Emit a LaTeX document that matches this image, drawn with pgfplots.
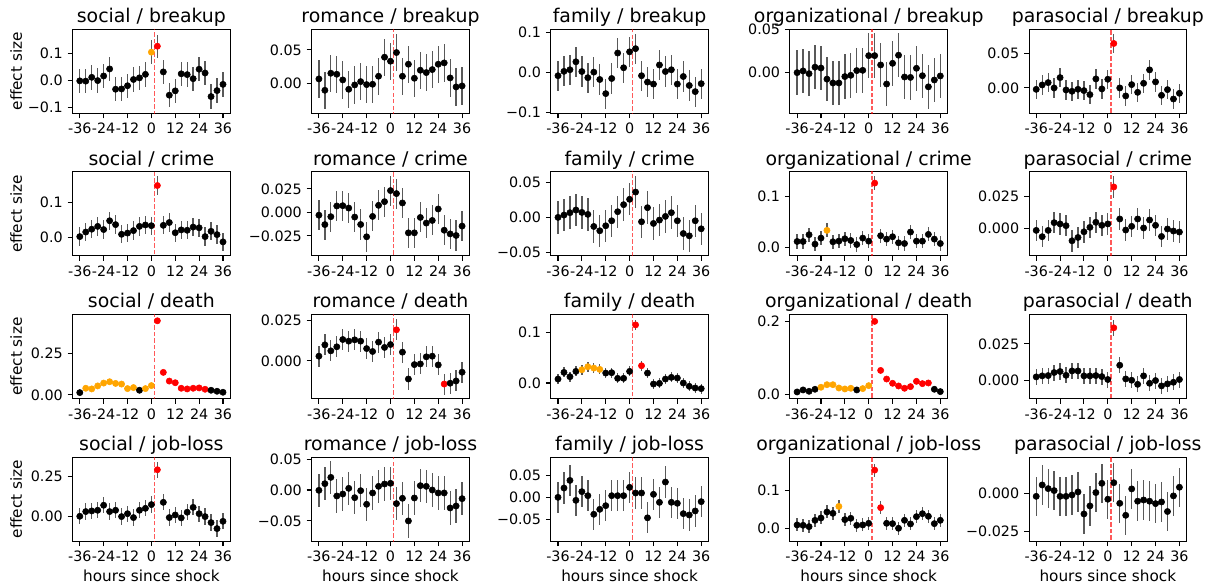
\documentclass[border=0pt]{standalone}
\usepackage{fontspec}
\setmainfont{DejaVu Sans}
\usepackage{pgfplots}
\usepackage{pgfplotstable}
\pgfplotsset{compat=1.18}
\usepgfplotslibrary{groupplots}
\definecolor{mplorange}{HTML}{FFA500}
\definecolor{mplred}{HTML}{FF0000}

% social / breakup
\pgfplotstableread{
x y e c
-36 -0.001 0.045 k
-33 -0.002 0.045 k
-30 0.012 0.045 k
-27 0.000 0.045 k
-24 0.017 0.045 k
-21 0.043 0.045 k
-18 -0.032 0.045 k
-15 -0.031 0.045 k
-12 -0.019 0.045 k
-9 0.004 0.045 k
-6 0.010 0.045 k
-3 0.023 0.045 k
0 0.105 0.045 o
3 0.127 0.042 r
6 0.032 0.045 k
9 -0.054 0.045 k
12 -0.038 0.045 k
15 0.025 0.045 k
18 0.022 0.045 k
21 0.007 0.045 k
24 0.042 0.045 k
27 0.028 0.045 k
30 -0.059 0.045 k
33 -0.037 0.045 k
36 -0.014 0.045 k
}\tA
% romance / breakup
\pgfplotstableread{
x y e c
-36 0.0065 0.028 k
-33 -0.0105 0.028 k
-30 0.015 0.028 k
-27 0.0135 0.028 k
-24 0.005 0.028 k
-21 -0.009 0.028 k
-18 -0.0025 0.028 k
-15 0.0025 0.028 k
-12 -0.002 0.028 k
-9 -0.0015 0.028 k
-6 0.0105 0.028 k
-3 0.039 0.028 k
0 0.033 0.028 k
3 0.046 0.028 k
6 0.0105 0.028 k
9 0.0285 0.028 k
12 0.0075 0.028 k
15 0.0195 0.028 k
18 0.016 0.028 k
21 0.0205 0.028 k
24 0.0285 0.028 k
27 0.0305 0.028 k
30 0.008 0.028 k
33 -0.0055 0.028 k
36 -0.004 0.028 k
}\tB
% family / breakup
\pgfplotstableread{
x y e c
-36 -0.008 0.038 k
-33 0.003 0.038 k
-30 0.007 0.038 k
-27 0.027 0.038 k
-24 0.0025 0.038 k
-21 -0.013 0.038 k
-18 0.001 0.038 k
-15 -0.0175 0.038 k
-12 -0.053 0.038 k
-9 -0.015 0.038 k
-6 0.049 0.038 k
-3 0.012 0.038 k
0 0.052 0.038 k
3 0.060 0.038 k
6 -0.008 0.038 k
9 -0.024 0.038 k
12 -0.029 0.038 k
15 0.019 0.038 k
18 0.0025 0.038 k
21 0.007 0.038 k
24 -0.029 0.038 k
27 -0.010 0.038 k
30 -0.0325 0.038 k
33 -0.048 0.038 k
36 -0.028 0.038 k
}\tC
% organizational / breakup
\pgfplotstableread{
x y e c
-36 -0.0004 0.026 k
-33 0.0016 0.026 k
-30 -0.0016 0.026 k
-27 0.006 0.026 k
-24 0.005 0.026 k
-21 -0.008 0.026 k
-18 -0.0125 0.026 k
-15 -0.0125 0.026 k
-12 -0.005 0.026 k
-9 -0.0035 0.026 k
-6 0.002 0.026 k
-3 0.0023 0.026 k
0 0.0195 0.026 k
3 0.0195 0.026 k
6 0.0086 0.026 k
9 -0.0137 0.026 k
12 0.0105 0.026 k
15 0.020 0.026 k
18 -0.0055 0.026 k
21 -0.006 0.026 k
24 0.0047 0.026 k
27 -0.004 0.026 k
30 -0.017 0.026 k
33 -0.009 0.026 k
36 -0.0043 0.026 k
}\tD
% parasocial / breakup
\pgfplotstableread{
x y e c
-36 -0.002 0.014 k
-33 0.0043 0.014 k
-30 0.0077 0.014 k
-27 0.000 0.014 k
-24 0.0149 0.014 k
-21 -0.0029 0.014 k
-18 -0.0048 0.014 k
-15 -0.0019 0.014 k
-12 -0.0038 0.014 k
-9 -0.0096 0.014 k
-6 0.013 0.014 k
-3 -0.0014 0.014 k
0 0.0125 0.014 k
3 0.064 0.014 r
6 0.000 0.014 k
9 -0.0115 0.014 k
12 0.0048 0.014 k
15 -0.0063 0.014 k
18 0.0067 0.014 k
21 0.026 0.014 k
24 0.0087 0.014 k
27 -0.0106 0.014 k
30 -0.0024 0.014 k
33 -0.0159 0.014 k
36 -0.0077 0.014 k
}\tE
% social / crime
\pgfplotstableread{
x y e c
-36 0.003 0.026 k
-33 0.016 0.026 k
-30 0.024 0.026 k
-27 0.032 0.026 k
-24 0.023 0.026 k
-21 0.048 0.026 k
-18 0.037 0.026 k
-15 0.0095 0.026 k
-12 0.013 0.026 k
-9 0.020 0.026 k
-6 0.032 0.026 k
-3 0.036 0.026 k
0 0.034 0.026 k
3 0.148 0.026 r
6 0.035 0.026 k
9 0.043 0.026 k
12 0.014 0.026 k
15 0.022 0.026 k
18 0.021 0.026 k
21 0.030 0.026 k
24 0.028 0.026 k
27 0.003 0.026 k
30 0.018 0.026 k
33 0.0086 0.026 k
36 -0.012 0.026 k
}\tF
% romance / crime
\pgfplotstableread{
x y e c
-36 -0.003 0.016 k
-33 -0.013 0.016 k
-30 -0.0046 0.016 k
-27 0.0068 0.016 k
-24 0.0071 0.016 k
-21 0.0046 0.016 k
-18 -0.005 0.016 k
-15 -0.0129 0.016 k
-12 -0.026 0.016 k
-9 -0.0043 0.016 k
-6 0.0075 0.016 k
-3 0.0114 0.016 k
0 0.0232 0.016 k
3 0.020 0.016 k
6 0.010 0.016 k
9 -0.0218 0.016 k
12 -0.0218 0.016 k
15 -0.0054 0.016 k
18 -0.0114 0.016 k
21 -0.0086 0.016 k
24 0.0036 0.016 k
27 -0.019 0.016 k
30 -0.0229 0.016 k
33 -0.0246 0.016 k
36 -0.0146 0.016 k
}\tG
% family / crime
\pgfplotstableread{
x y e c
-36 0.000 0.023 k
-33 0.0033 0.023 k
-30 0.0067 0.023 k
-27 0.0105 0.023 k
-24 0.0071 0.023 k
-21 0.0043 0.023 k
-18 -0.0129 0.023 k
-15 -0.019 0.023 k
-12 -0.0119 0.023 k
-9 -0.0048 0.023 k
-6 0.0081 0.023 k
-3 0.0181 0.023 k
0 0.0257 0.023 k
3 0.036 0.023 k
6 -0.0062 0.023 k
9 0.0138 0.023 k
12 -0.0086 0.023 k
15 -0.0038 0.023 k
18 0.0014 0.023 k
21 0.0067 0.023 k
24 -0.0048 0.023 k
27 -0.0229 0.023 k
30 -0.0262 0.023 k
33 -0.0048 0.023 k
36 -0.0162 0.023 k
}\tH
% organizational / crime
\pgfplotstableread{
x y e c
-36 0.0113 0.014 k
-33 0.0113 0.014 k
-30 0.0247 0.014 k
-27 0.006 0.014 k
-24 0.018 0.014 k
-21 0.0333 0.014 o
-18 0.0107 0.014 k
-15 0.012 0.014 k
-12 0.0167 0.014 k
-9 0.0133 0.014 k
-6 0.0053 0.014 k
-3 0.018 0.014 k
0 0.012 0.014 k
3 0.1267 0.014 r
6 0.0227 0.014 k
9 0.016 0.014 k
12 0.0207 0.014 k
15 0.0087 0.014 k
18 0.0073 0.014 k
21 0.030 0.014 k
24 0.012 0.014 k
27 0.012 0.014 k
30 0.0253 0.014 k
33 0.016 0.014 k
36 0.0073 0.014 k
}\tI
% parasocial / crime
\pgfplotstableread{
x y e c
-36 -0.0016 0.0085 k
-33 -0.0066 0.0085 k
-30 -0.0016 0.0085 k
-27 0.0045 0.0085 k
-24 0.0035 0.0085 k
-21 0.0021 0.0085 k
-18 -0.0098 0.0085 k
-15 -0.0072 0.0085 k
-12 -0.0027 0.0085 k
-9 0.0008 0.0085 k
-6 0.0048 0.0085 k
-3 0.0024 0.0085 k
0 0.0035 0.0085 k
3 0.0327 0.0085 r
6 0.0074 0.0085 k
9 -0.0013 0.0085 k
12 0.0016 0.0085 k
15 0.0074 0.0085 k
18 0.0003 0.0085 k
21 0.0066 0.0085 k
24 0.0024 0.0085 k
27 -0.0064 0.0085 k
30 -0.0005 0.0085 k
33 -0.0021 0.0085 k
36 -0.0029 0.0085 k
}\tJ
% social / death
\pgfplotstableread{
x y e c
-36 0.014 0.012 k
-33 0.040 0.012 o
-30 0.036 0.012 o
-27 0.054 0.012 o
-24 0.071 0.012 o
-21 0.079 0.012 o
-18 0.069 0.012 o
-15 0.065 0.012 o
-12 0.038 0.012 o
-9 0.044 0.012 o
-6 0.028 0.012 k
-3 0.038 0.012 o
0 0.056 0.012 o
3 0.444 0.012 r
6 0.135 0.012 r
9 0.083 0.012 r
12 0.073 0.012 r
15 0.040 0.012 r
18 0.036 0.012 r
21 0.040 0.012 r
24 0.042 0.012 r
27 0.034 0.012 r
30 0.028 0.012 k
33 0.022 0.012 k
36 0.016 0.012 k
}\tK
% romance / death
\pgfplotstableread{
x y e c
-36 0.0029 0.0065 k
-33 0.0099 0.0065 k
-30 0.0062 0.0065 k
-27 0.0087 0.0065 k
-24 0.0132 0.0065 k
-21 0.0122 0.0065 k
-18 0.0130 0.0065 k
-15 0.0122 0.0065 k
-12 0.0076 0.0065 k
-9 0.0058 0.0065 k
-6 0.0116 0.0065 k
-3 0.0083 0.0065 k
0 0.0101 0.0065 k
3 0.0192 0.0065 r
6 0.0054 0.0065 k
9 -0.0112 0.0065 k
12 -0.0023 0.0065 k
15 -0.0019 0.0065 k
18 0.0025 0.0065 k
21 0.0029 0.0065 k
24 -0.0025 0.0065 k
27 -0.0143 0.0065 r
30 -0.0138 0.0065 k
33 -0.0124 0.0065 k
36 -0.0070 0.0065 k
}\tL
% family / death
\pgfplotstableread{
x y e c
-36 0.0078 0.010 k
-33 0.0209 0.010 k
-30 0.0124 0.010 k
-27 0.0229 0.010 k
-24 0.0261 0.010 o
-21 0.0320 0.010 o
-18 0.0294 0.010 o
-15 0.0268 0.010 o
-12 0.0196 0.010 k
-9 0.0203 0.010 k
-6 0.0092 0.010 k
-3 0.0092 0.010 k
0 0.0229 0.010 k
3 0.1144 0.010 r
6 0.0340 0.010 r
9 0.0196 0.010 k
12 -0.0020 0.010 k
15 -0.0007 0.010 k
18 0.0078 0.010 k
21 0.0111 0.010 k
24 0.0098 0.010 k
27 0.0000 0.010 k
30 -0.0065 0.010 k
33 -0.0098 0.010 k
36 -0.0111 0.010 k
}\tM
% organizational / death
\pgfplotstableread{
x y e c
-36 0.0072 0.007 k
-33 0.0127 0.007 k
-30 0.0090 0.007 k
-27 0.0145 0.007 k
-24 0.0200 0.007 o
-21 0.0270 0.007 o
-18 0.0270 0.007 o
-15 0.0180 0.007 o
-12 0.0154 0.007 o
-9 0.0172 0.007 o
-6 0.0127 0.007 k
-3 0.0163 0.007 o
0 0.0244 0.007 o
3 0.2000 0.007 r
6 0.0660 0.007 r
9 0.0425 0.007 r
12 0.0308 0.007 r
15 0.0235 0.007 r
18 0.0172 0.007 r
21 0.0217 0.007 r
24 0.0362 0.007 r
27 0.0299 0.007 r
30 0.0317 0.007 r
33 0.0145 0.007 k
36 0.0081 0.007 k
}\tN
% parasocial / death
\pgfplotstableread{
x y e c
-36 0.0023 0.0055 k
-33 0.0030 0.0055 k
-30 0.0032 0.0055 k
-27 0.0053 0.0055 k
-24 0.0060 0.0055 k
-21 0.0034 0.0055 k
-18 0.0064 0.0055 k
-15 0.0064 0.0055 k
-12 0.0030 0.0055 k
-9 0.0030 0.0055 k
-6 0.0032 0.0055 k
-3 0.0025 0.0055 k
0 0.0005 0.0055 k
3 0.0360 0.0055 r
6 0.0103 0.0055 k
9 0.0009 0.0055 k
12 0.0000 0.0055 k
15 -0.0028 0.0055 k
18 0.0030 0.0055 k
21 -0.0021 0.0055 k
24 -0.0002 0.0055 k
27 -0.0039 0.0055 k
30 -0.0025 0.0055 k
33 -0.0014 0.0055 k
36 0.0005 0.0055 k
}\tO
% social / job-loss
\pgfplotstableread{
x y e c
-36 0.002 0.050 k
-33 0.031 0.050 k
-30 0.035 0.050 k
-27 0.039 0.050 k
-24 0.070 0.050 k
-21 0.031 0.050 k
-18 0.039 0.050 k
-15 0.000 0.050 k
-12 0.018 0.050 k
-9 -0.006 0.050 k
-6 0.039 0.050 k
-3 0.051 0.050 k
0 0.074 0.050 k
3 0.289 0.050 r
6 0.088 0.050 k
9 -0.006 0.050 k
12 0.010 0.050 k
15 -0.008 0.050 k
18 0.027 0.050 k
21 0.057 0.050 k
24 0.018 0.050 k
27 0.000 0.050 k
30 -0.037 0.050 k
33 -0.074 0.050 k
36 -0.029 0.050 k
}\tP
% romance / job-loss
\pgfplotstableread{
x y e c
-36 -0.0005 0.027 k
-33 0.0102 0.027 k
-30 0.0204 0.027 k
-27 -0.0097 0.027 k
-24 -0.0065 0.027 k
-21 0.0027 0.027 k
-18 -0.0124 0.027 k
-15 -0.0011 0.027 k
-12 -0.0231 0.027 k
-9 -0.0048 0.027 k
-6 0.0059 0.027 k
-3 0.0097 0.027 k
0 0.0108 0.027 k
3 -0.0220 0.027 k
6 -0.0134 0.027 k
9 -0.0500 0.027 k
12 -0.0129 0.027 k
15 0.0070 0.027 k
18 0.0059 0.027 k
21 0.0000 0.027 k
24 -0.0048 0.027 k
27 -0.0048 0.027 k
30 -0.0290 0.027 k
33 -0.0258 0.027 k
36 -0.0140 0.027 k
}\tQ
% family / job-loss
\pgfplotstableread{
x y e c
-36 0.0000 0.035 k
-33 0.0209 0.035 k
-30 0.0380 0.035 k
-27 -0.0067 0.035 k
-24 0.0127 0.035 k
-21 0.0037 0.035 k
-18 -0.0380 0.035 k
-15 -0.0269 0.035 k
-12 -0.0187 0.035 k
-9 0.0037 0.035 k
-6 0.0037 0.035 k
-3 0.0037 0.035 k
0 0.0224 0.035 k
3 0.0097 0.035 k
6 0.0097 0.035 k
9 -0.0460 0.035 k
12 0.0067 0.035 k
15 -0.0112 0.035 k
18 0.0343 0.035 k
21 -0.0112 0.035 k
24 -0.0134 0.035 k
27 -0.0366 0.035 k
30 -0.0396 0.035 k
33 -0.0306 0.035 k
36 -0.0097 0.035 k
}\tR
% organizational / job-loss
\pgfplotstableread{
x y e c
-36 0.0096 0.017 k
-33 0.0087 0.017 k
-30 0.0052 0.017 k
-27 0.0217 0.017 k
-24 0.0278 0.017 k
-21 0.0435 0.017 k
-18 0.0400 0.017 k
-15 0.0580 0.017 o
-12 0.0235 0.017 k
-9 0.0270 0.017 k
-6 0.0087 0.017 k
-3 0.0096 0.017 k
0 0.0139 0.017 k
3 0.1530 0.017 r
6 0.0548 0.017 r
9 0.0139 0.017 k
12 0.0130 0.017 k
15 0.0009 0.017 k
18 0.0217 0.017 k
21 0.0122 0.017 k
24 0.0313 0.017 k
27 0.0391 0.017 k
30 0.0322 0.017 k
33 0.0130 0.017 k
36 0.0217 0.017 k
}\tS
% parasocial / job-loss
\pgfplotstableread{
x y e c
-36 -0.0018 0.013 k
-33 0.0057 0.013 k
-30 0.0033 0.013 k
-27 0.0020 0.013 k
-24 -0.0018 0.013 k
-21 -0.0018 0.013 k
-18 -0.0009 0.013 k
-15 0.0011 0.013 k
-12 -0.0134 0.013 k
-9 -0.0081 0.013 k
-6 0.0007 0.013 k
-3 0.0068 0.013 k
0 -0.0037 0.013 k
3 0.0072 0.013 k
6 -0.0064 0.013 k
9 -0.0143 0.013 k
12 0.0031 0.013 k
15 -0.0050 0.013 k
18 -0.0042 0.013 k
21 -0.0050 0.013 k
24 -0.0066 0.013 k
27 -0.0055 0.013 k
30 -0.0118 0.013 k
33 -0.0015 0.013 k
36 0.0042 0.013 k
}\tT

\newcommand{\panel}[1]{%
  \addplot[mplred, opacity=0.65, line width=1.25pt, dash pattern=on 3.2pt off 1.5pt, forget plot] coordinates {(1.5,-0.9) (1.5,0.9)};
  \addplot[scatter, only marks, scatter src=explicit symbolic, mark=*, mark size=2.25pt,
    scatter/classes={k={mark=*,black}, o={mark=*,mplorange}, r={mark=*,mplred}}]
    table[x=x,y=y,meta=c] {#1};
  \addplot[draw=none, mark=none, forget plot, error bars/.cd, y dir=both, y explicit, error mark=none,
    error bar style={draw=black, solid, opacity=0.65, line width=0.95pt}]
    table[x=x,y=y,y error=e] {#1};
}

\pgfplotsset{
  every axis title/.style={at={(0.5,1)}, anchor=base, yshift=4.8pt, font=\fontsize{13.6}{16}\selectfont},
  every axis y label/.style={at={(axis description cs:0,0.5)}, xshift=-40.7pt, rotate=90, anchor=center, font=\fontsize{11}{13}\selectfont},
  every axis x label/.style={at={(axis description cs:0.5,0)}, anchor=base, yshift=-28.8pt, font=\fontsize{11}{13}\selectfont},
}

\begin{document}
\begin{tikzpicture}
\begin{groupplot}[
  group style={group size=5 by 4, horizontal sep=58.75pt, vertical sep=42.1pt},
  width=113.4pt, height=60.6pt, scale only axis,
  xmin=-39.6, xmax=39.6,
  xtick={-36,-24,-12,0,12,24,36}, xticklabels={-36,-24,-12,0,12,24,36},
  tick align=outside, tick pos=left, major tick length=3.6pt,
  every tick/.style={black, line width=0.75pt},
  axis line style={line width=0.75pt},
  tick label style={font=\fontsize{10.3}{12}\selectfont},
  minor tick num=0, scaled y ticks=false, scaled x ticks=false,
]
\nextgroupplot[title={social / breakup}, ylabel={effect size}, ymin=-0.121, ymax=0.19, ytick={-0.1,0,0.1}, yticklabels={−0.1,0.0,0.1}]
\panel{\tA}
\nextgroupplot[title={romance / breakup}, ymin=-0.045, ymax=0.081, ytick={0,0.05}, yticklabels={0.00,0.05}]
\panel{\tB}
\nextgroupplot[title={family / breakup}, ymin=-0.1025, ymax=0.109, ytick={-0.1,0,0.1}, yticklabels={−0.1,0.0,0.1}]
\panel{\tC}
\nextgroupplot[title={organizational / breakup}, ymin=-0.048, ymax=0.0505, ytick={0,0.05}, yticklabels={0.00,0.05}]
\panel{\tD}
\nextgroupplot[title={parasocial / breakup}, ymin=-0.0365, ymax=0.0846, ytick={0,0.05}, yticklabels={0.00,0.05}]
\panel{\tE}

\nextgroupplot[title={social / crime}, ylabel={effect size}, ymin=-0.052, ymax=0.187, ytick={0,0.1}, yticklabels={0.0,0.1}]
\panel{\tF}
\nextgroupplot[title={romance / crime}, ymin=-0.0464, ymax=0.0432, ytick={-0.025,0,0.025}, yticklabels={−0.025,0.000,0.025}]
\panel{\tG}
\nextgroupplot[title={family / crime}, ymin=-0.0548, ymax=0.0648, ytick={-0.05,0,0.05}, yticklabels={−0.05,0.00,0.05}]
\panel{\tH}
\nextgroupplot[title={organizational / crime}, ymin=-0.0173, ymax=0.149, ytick={0,0.1}, yticklabels={0.0,0.1}]
\panel{\tI}
\nextgroupplot[title={parasocial / crime}, ymin=-0.0218, ymax=0.0447, ytick={0,0.025}, yticklabels={0.000,0.025}]
\panel{\tJ}

\nextgroupplot[title={social / death}, ylabel={effect size}, ymin=-0.022, ymax=0.482, ytick={0,0.25}, yticklabels={0.00,0.25}]
\panel{\tK}
\nextgroupplot[title={romance / death}, ymin=-0.0233, ymax=0.0287, ytick={0,0.025}, yticklabels={0.000,0.025}]
\panel{\tL}
\nextgroupplot[title={family / death}, ymin=-0.0307, ymax=0.135, ytick={0,0.1}, yticklabels={0.0,0.1}]
\panel{\tM}
\nextgroupplot[title={organizational / death}, ymin=-0.011, ymax=0.219, ytick={0,0.2}, yticklabels={0.0,0.2}]
\panel{\tN}
\nextgroupplot[title={parasocial / death}, ymin=-0.0126, ymax=0.0452, ytick={0,0.025}, yticklabels={0.000,0.025}]
\panel{\tO}

\nextgroupplot[title={social / job-loss}, ylabel={effect size}, xlabel={hours since shock}, ymin=-0.152, ymax=0.367, ytick={0,0.25}, yticklabels={0.00,0.25}]
\panel{\tP}
\nextgroupplot[title={romance / job-loss}, xlabel={hours since shock}, ymin=-0.0828, ymax=0.0532, ytick={-0.05,0,0.05}, yticklabels={−0.05,0.00,0.05}]
\panel{\tQ}
\nextgroupplot[title={family / job-loss}, xlabel={hours since shock}, ymin=-0.0985, ymax=0.0903, ytick={-0.05,0,0.05}, yticklabels={−0.05,0.00,0.05}]
\panel{\tR}
\nextgroupplot[title={organizational / job-loss}, xlabel={hours since shock}, ymin=-0.033, ymax=0.187, ytick={0,0.1}, yticklabels={0.0,0.1}]
\panel{\tS}
\nextgroupplot[title={parasocial / job-loss}, xlabel={hours since shock}, ymin=-0.0314, ymax=0.0241, ytick={-0.025,0}, yticklabels={−0.025,0.000}]
\panel{\tT}
\end{groupplot}
\pgfresetboundingbox
\path (group c1r1.north west) ++(-52.3pt,21.0pt) rectangle ++(872.64pt,-421.92pt);
\end{tikzpicture}
\end{document}
